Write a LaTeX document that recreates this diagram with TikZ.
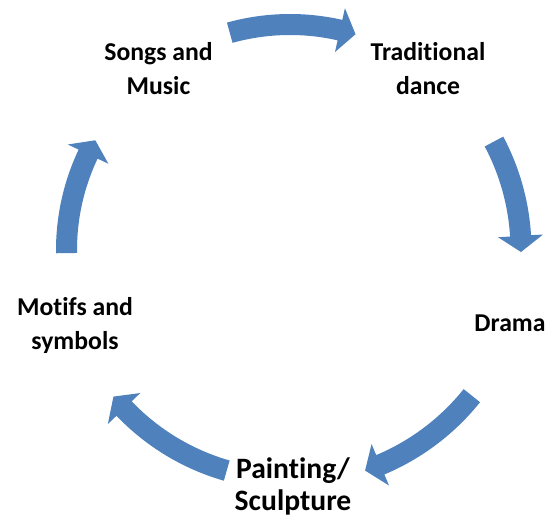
\documentclass[tikz,border=0pt]{standalone}
\usepackage{fontspec}
\setmainfont[Ligatures={NoCommon}]{Carlito}
\usetikzlibrary{calc}
\definecolor{arrowblue}{RGB}{79,129,189}
\newcommand\cycarrow[4]{% radius, tail angle, head base angle, tip angle
  \fill[blockarrow] ($(C)+({#2}:{#1+10.5})$) arc[start angle=#2, end angle=#3, radius=#1+10.5]
    -- ($(C)+({#3}:{#1+22.5})$) -- ($(C)+({#4}:{#1})$) -- ($(C)+({#3}:{#1-22.5})$)
    -- ($(C)+({#3}:{#1-10.5})$) arc[start angle=#3, end angle=#2, radius=#1-10.5] -- cycle;}
\begin{document}
\begin{tikzpicture}[x=1pt,y=1pt,
  blockarrow/.style={fill=arrowblue},
  lbl/.style={font=\bfseries\fontsize{25.7}{34}\selectfont, align=center, anchor=base, inner sep=0pt},
  biglbl/.style={font=\bfseries\fontsize{29.6}{32}\selectfont, align=center, anchor=base, inner sep=0pt}]
\useasboundingbox (0,0) rectangle (553,516);
\coordinate (C) at (290,266);
\cycarrow{225.5}{105.5}{77.2}{73.1}
\cycarrow{231}{28.0}{3.5}{-0.5}
\cycarrow{233}{-38.7}{-67.2}{-71.2}
\cycarrow{229.5}{-106}{-136.3}{-140.3}
\cycarrow{223.5}{180.8}{154.6}{150.6}
\node[lbl] (songs) at (158.5,421) {Songs and\\Music};
\node[lbl] (dance) at (428,421) {Traditional\\dance};
\node[lbl] (motifs) at (75,166) {Motifs and\\symbols};
\node[lbl] (drama) at (510,184.3) {Drama};
\node[biglbl] (paint) at (293,6) {Painting/\\Sculpture};
\end{tikzpicture}
\end{document}
